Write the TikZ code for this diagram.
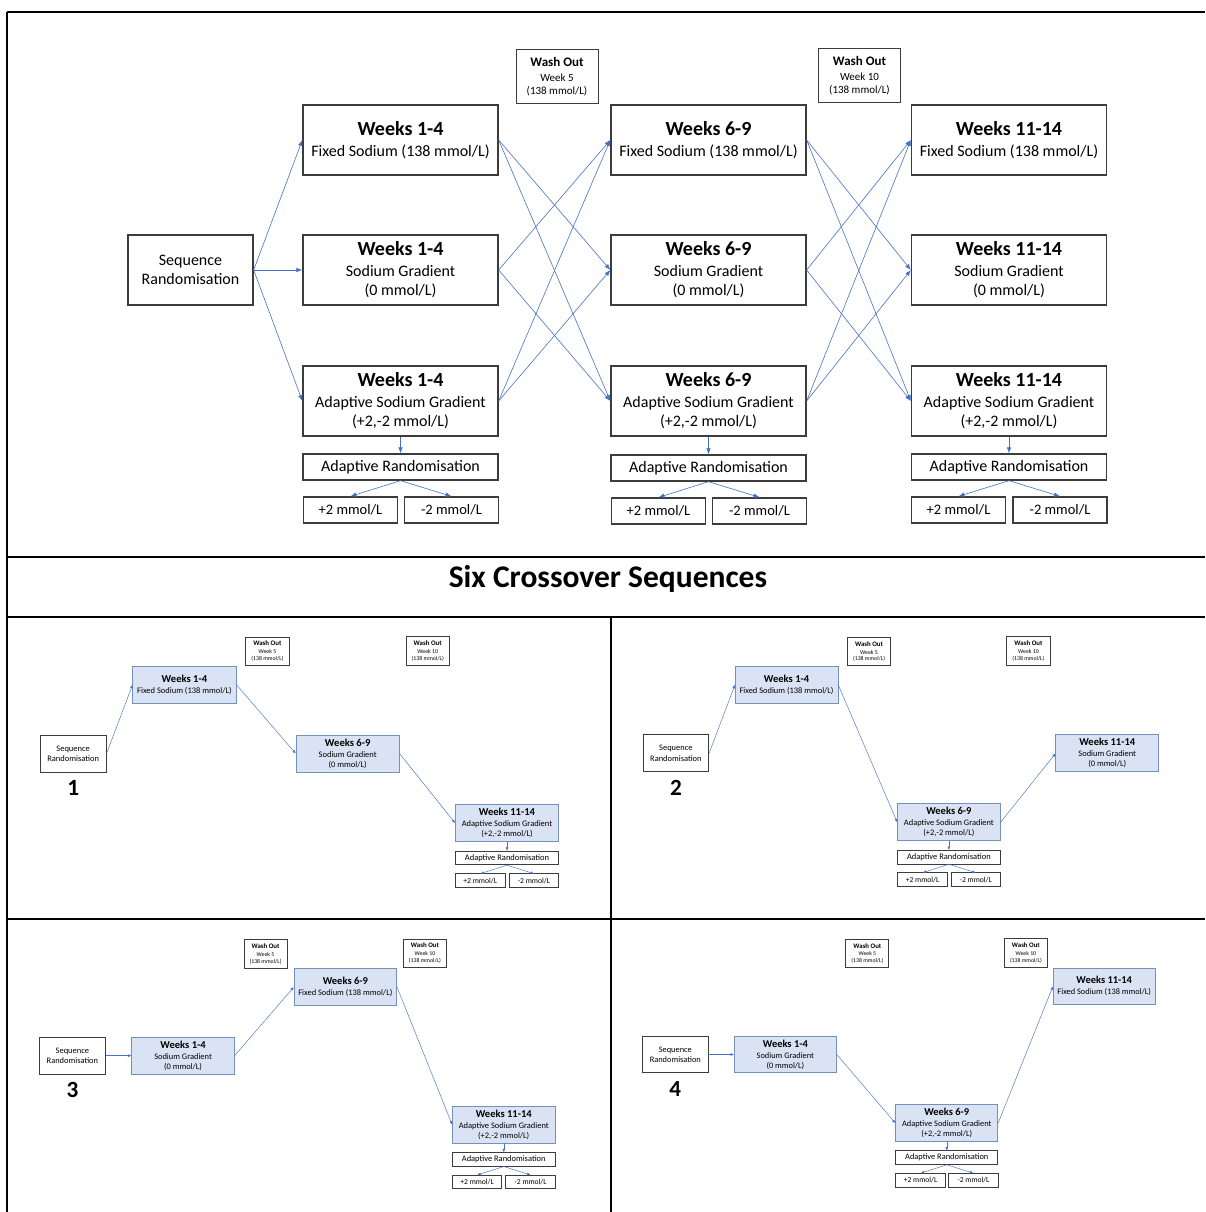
\documentclass[tikz,border=0pt]{standalone}
\usepackage{fontspec}
\setmainfont{Carlito}
\usepackage{tikz}
\usetikzlibrary{arrows.meta, calc}
\definecolor{ArrowBlue}{RGB}{68,114,196}
\definecolor{BoxEdge}{RGB}{60,60,60}
\definecolor{PanelFill}{RGB}{218,227,243}
\definecolor{PanelEdge}{RGB}{118,143,188}
\newcommand{\wk}[1]{{\fontsize{20}{20}\selectfont\bfseries #1}}
\newcommand{\wo}[1]{{\fontsize{13}{13}\selectfont\bfseries #1}}

\begin{document}
\begin{tikzpicture}[x=1pt, y=-1pt,
    trial/.style={draw=BoxEdge, line width=1.3pt, fill=white, minimum width=195pt,
      minimum height=70pt, inner sep=0pt, align=center, font=\fontsize{16}{19}\selectfont},
    seqbox/.style={trial, minimum width=125pt},
    arbox/.style={trial, minimum height=26pt},
    dosebox/.style={trial, minimum width=94pt, minimum height=26pt,
      font=\fontsize{14.5}{16}\selectfont},
    washbox/.style={draw=BoxEdge, line width=1pt, minimum width=82pt, minimum height=54pt,
      inner sep=0pt, align=center, font=\fontsize{11}{13}\selectfont},
    pick/.style={trial, fill=PanelFill, draw=PanelEdge},
    link/.style={draw=ArrowBlue, line width=0.6pt, -{Latex[length=6pt,width=4.5pt]}},
    rule/.style={line width=1.5pt, black},
    panel/.style={transform shape,
      trial/.append style={line width=0.9pt},
      washbox/.append style={line width=0.8pt},
      link/.append style={line width=0.45pt, -{Latex[length=3.5pt,width=2.8pt]}}},
    seqno/.style={font=\fontsize{44}{44}\selectfont\bfseries}]
  \useasboundingbox (0,0) rectangle (1205,1212);

  % table frame
  \draw[rule] (7,12) -- (1205,12);
  \draw[rule] (7,12) -- (7,1212);
  \draw[rule] (7,557) -- (1205,557);
  \draw[rule] (7,617) -- (1205,617);
  \draw[rule] (7,919) -- (1205,919);
  \draw[rule] (611,617) -- (611,1212);

  % full design
  \node[seqbox] (seq) at (190.5,270) {Sequence\\Randomisation};
  \node[washbox] (wash5) at (557,77) {\wo{Wash Out}\\[2pt]Week 5\\(138 mmol/L)};
  \node[washbox] (wash10) at (859.5,76) {\wo{Wash Out}\\[2pt]Week 10\\(138 mmol/L)};

  \node[trial] (fix1) at (400.5,140) {\wk{Weeks 1-4}\\[2pt]Fixed Sodium (138 mmol/L)};
  \node[trial] (grad1) at (400.5,270) {\wk{Weeks 1-4}\\[2pt]Sodium Gradient\\(0 mmol/L)};
  \node[trial] (adap1) at (400.5,401) {\wk{Weeks 1-4}\\[2pt]Adaptive Sodium Gradient\\(+2,-2 mmol/L)};
  \node[arbox] (rand1) at (400.5,467) {Adaptive Randomisation};
  \node[dosebox] (plus1) at (350.5,510) {+2 mmol/L};
  \node[dosebox] (minus1) at (451.5,510) {-2 mmol/L};

  \node[trial] (fix2) at (708.5,140) {\wk{Weeks 6-9}\\[2pt]Fixed Sodium (138 mmol/L)};
  \node[trial] (grad2) at (708.5,270) {\wk{Weeks 6-9}\\[2pt]Sodium Gradient\\(0 mmol/L)};
  \node[trial] (adap2) at (708.5,401) {\wk{Weeks 6-9}\\[2pt]Adaptive Sodium Gradient\\(+2,-2 mmol/L)};
  \node[arbox] (rand2) at (708.5,468) {Adaptive Randomisation};
  \node[dosebox] (plus2) at (658.5,511) {+2 mmol/L};
  \node[dosebox] (minus2) at (759.5,511) {-2 mmol/L};

  \node[trial] (fix3) at (1009,140) {\wk{Weeks 11-14}\\[2pt]Fixed Sodium (138 mmol/L)};
  \node[trial] (grad3) at (1009,270) {\wk{Weeks 11-14}\\[2pt]Sodium Gradient\\(0 mmol/L)};
  \node[trial] (adap3) at (1009,401) {\wk{Weeks 11-14}\\[2pt]Adaptive Sodium Gradient\\(+2,-2 mmol/L)};
  \node[arbox] (rand3) at (1009,467) {Adaptive Randomisation};
  \node[dosebox] (plus3) at (958.5,510) {+2 mmol/L};
  \node[dosebox] (minus3) at (1060,510) {-2 mmol/L};

  \draw[link] (seq.east) -- (fix1.west);
  \draw[link] (seq.east) -- (grad1.west);
  \draw[link] (seq.east) -- (adap1.west);
  % crossover between periods
  \draw[link] (fix1.east) -- (grad2.west);
  \draw[link] (fix1.east) -- (adap2.west);
  \draw[link] (grad1.east) -- (fix2.west);
  \draw[link] (grad1.east) -- (adap2.west);
  \draw[link] (adap1.east) -- (fix2.west);
  \draw[link] (adap1.east) -- (grad2.west);
  \draw[link] (fix2.east) -- (grad3.west);
  \draw[link] (fix2.east) -- (adap3.west);
  \draw[link] (grad2.east) -- (fix3.west);
  \draw[link] (grad2.east) -- (adap3.west);
  \draw[link] (adap2.east) -- (fix3.west);
  \draw[link] (adap2.east) -- (grad3.west);
  % adaptive arms
  \draw[link] (adap1.south) -- (rand1.north);
  \draw[link] (rand1.south) -- (plus1.north);
  \draw[link] (rand1.south) -- (minus1.north);
  \draw[link] (adap2.south) -- (rand2.north);
  \draw[link] (rand2.south) -- (plus2.north);
  \draw[link] (rand2.south) -- (minus2.north);
  \draw[link] (adap3.south) -- (rand3.north);
  \draw[link] (rand3.south) -- (plus3.north);
  \draw[link] (rand3.south) -- (minus3.north);

  \node[font=\fontsize{31.5}{32}\selectfont\bfseries] (title) at (608,579) {Six Crossover Sequences};

  % sequence 1
  \begin{scope}[shift={(-27.8,610.5)}, scale=0.53, panel]
    \node[seqbox] (s1) at (190.5,270) {Sequence\\Randomisation};
    \node[seqno] (n1) at (190.5,335) {1};
    \node[washbox] (s1w5) at (557,77) {\wo{Wash Out}\\[2pt]Week 5\\(138 mmol/L)};
    \node[washbox] (s1w10) at (859.5,76) {\wo{Wash Out}\\[2pt]Week 10\\(138 mmol/L)};
    \node[pick] (s1a) at (400.5,140) {\wk{Weeks 1-4}\\[2pt]Fixed Sodium (138 mmol/L)};
    \node[pick] (s1b) at (708.5,270) {\wk{Weeks 6-9}\\[2pt]Sodium Gradient\\(0 mmol/L)};
    \node[pick] (s1c) at (1009,401) {\wk{Weeks 11-14}\\[2pt]Adaptive Sodium Gradient\\(+2,-2 mmol/L)};
    \node[arbox] (s1r) at (1009,467) {Adaptive Randomisation};
    \node[dosebox] (s1p) at (958.5,510) {+2 mmol/L};
    \node[dosebox] (s1m) at (1060,510) {-2 mmol/L};
    \draw[link] (s1.east) -- (s1a.west);
    \draw[link] (s1a.east) -- (s1b.west);
    \draw[link] (s1b.east) -- (s1c.west);
    \draw[link] (s1c.south) -- (s1r.north);
    \draw[link] (s1r.south) -- (s1p.north);
    \draw[link] (s1r.south) -- (s1m.north);
  \end{scope}

  % sequence 2
  \begin{scope}[shift={(575.5,611)}, scale=0.527, panel]
    \node[seqbox] (s2) at (190.5,270) {Sequence\\Randomisation};
    \node[seqno] (n2) at (190.5,335) {2};
    \node[washbox] (s2w5) at (557,77) {\wo{Wash Out}\\[2pt]Week 5\\(138 mmol/L)};
    \node[washbox] (s2w10) at (859.5,76) {\wo{Wash Out}\\[2pt]Week 10\\(138 mmol/L)};
    \node[pick] (s2a) at (400.5,140) {\wk{Weeks 1-4}\\[2pt]Fixed Sodium (138 mmol/L)};
    \node[pick] (s2b) at (708.5,401) {\wk{Weeks 6-9}\\[2pt]Adaptive Sodium Gradient\\(+2,-2 mmol/L)};
    \node[arbox] (s2r) at (708.5,467) {Adaptive Randomisation};
    \node[dosebox] (s2p) at (658.5,510) {+2 mmol/L};
    \node[dosebox] (s2m) at (759.5,510) {-2 mmol/L};
    \node[pick] (s2c) at (1009,270) {\wk{Weeks 11-14}\\[2pt]Sodium Gradient\\(0 mmol/L)};
    \draw[link] (s2.east) -- (s2a.west);
    \draw[link] (s2a.east) -- (s2b.west);
    \draw[link] (s2b.east) -- (s2c.west);
    \draw[link] (s2b.south) -- (s2r.north);
    \draw[link] (s2r.south) -- (s2p.north);
    \draw[link] (s2r.south) -- (s2m.north);
  \end{scope}

  % sequence 3
  \begin{scope}[shift={(-28,913.3)}, scale=0.527, panel]
    \node[seqbox] (s3) at (190.5,270) {Sequence\\Randomisation};
    \node[seqno] (n3) at (190.5,335) {3};
    \node[washbox] (s3w5) at (557,77) {\wo{Wash Out}\\[2pt]Week 5\\(138 mmol/L)};
    \node[washbox] (s3w10) at (859.5,76) {\wo{Wash Out}\\[2pt]Week 10\\(138 mmol/L)};
    \node[pick] (s3a) at (400.5,270) {\wk{Weeks 1-4}\\[2pt]Sodium Gradient\\(0 mmol/L)};
    \node[pick] (s3b) at (708.5,140) {\wk{Weeks 6-9}\\[2pt]Fixed Sodium (138 mmol/L)};
    \node[pick] (s3c) at (1009,401) {\wk{Weeks 11-14}\\[2pt]Adaptive Sodium Gradient\\(+2,-2 mmol/L)};
    \node[arbox] (s3r) at (1009,467) {Adaptive Randomisation};
    \node[dosebox] (s3p) at (958.5,510) {+2 mmol/L};
    \node[dosebox] (s3m) at (1060,510) {-2 mmol/L};
    \draw[link] (s3.east) -- (s3a.west);
    \draw[link] (s3a.east) -- (s3b.west);
    \draw[link] (s3b.east) -- (s3c.west);
    \draw[link] (s3c.south) -- (s3r.north);
    \draw[link] (s3r.south) -- (s3p.north);
    \draw[link] (s3r.south) -- (s3m.north);
  \end{scope}

  % sequence 4
  \begin{scope}[shift={(575.5,913)}, scale=0.524, panel]
    \node[seqbox] (s4) at (190.5,270) {Sequence\\Randomisation};
    \node[seqno] (n4) at (190.5,335) {4};
    \node[washbox] (s4w5) at (557,77) {\wo{Wash Out}\\[2pt]Week 5\\(138 mmol/L)};
    \node[washbox] (s4w10) at (859.5,76) {\wo{Wash Out}\\[2pt]Week 10\\(138 mmol/L)};
    \node[pick] (s4a) at (400.5,270) {\wk{Weeks 1-4}\\[2pt]Sodium Gradient\\(0 mmol/L)};
    \node[pick] (s4b) at (708.5,401) {\wk{Weeks 6-9}\\[2pt]Adaptive Sodium Gradient\\(+2,-2 mmol/L)};
    \node[arbox] (s4r) at (708.5,467) {Adaptive Randomisation};
    \node[dosebox] (s4p) at (658.5,510) {+2 mmol/L};
    \node[dosebox] (s4m) at (759.5,510) {-2 mmol/L};
    \node[pick] (s4c) at (1009,140) {\wk{Weeks 11-14}\\[2pt]Fixed Sodium (138 mmol/L)};
    \draw[link] (s4.east) -- (s4a.west);
    \draw[link] (s4a.east) -- (s4b.west);
    \draw[link] (s4b.east) -- (s4c.west);
    \draw[link] (s4b.south) -- (s4r.north);
    \draw[link] (s4r.south) -- (s4p.north);
    \draw[link] (s4r.south) -- (s4m.north);
  \end{scope}
\end{tikzpicture}
\end{document}
